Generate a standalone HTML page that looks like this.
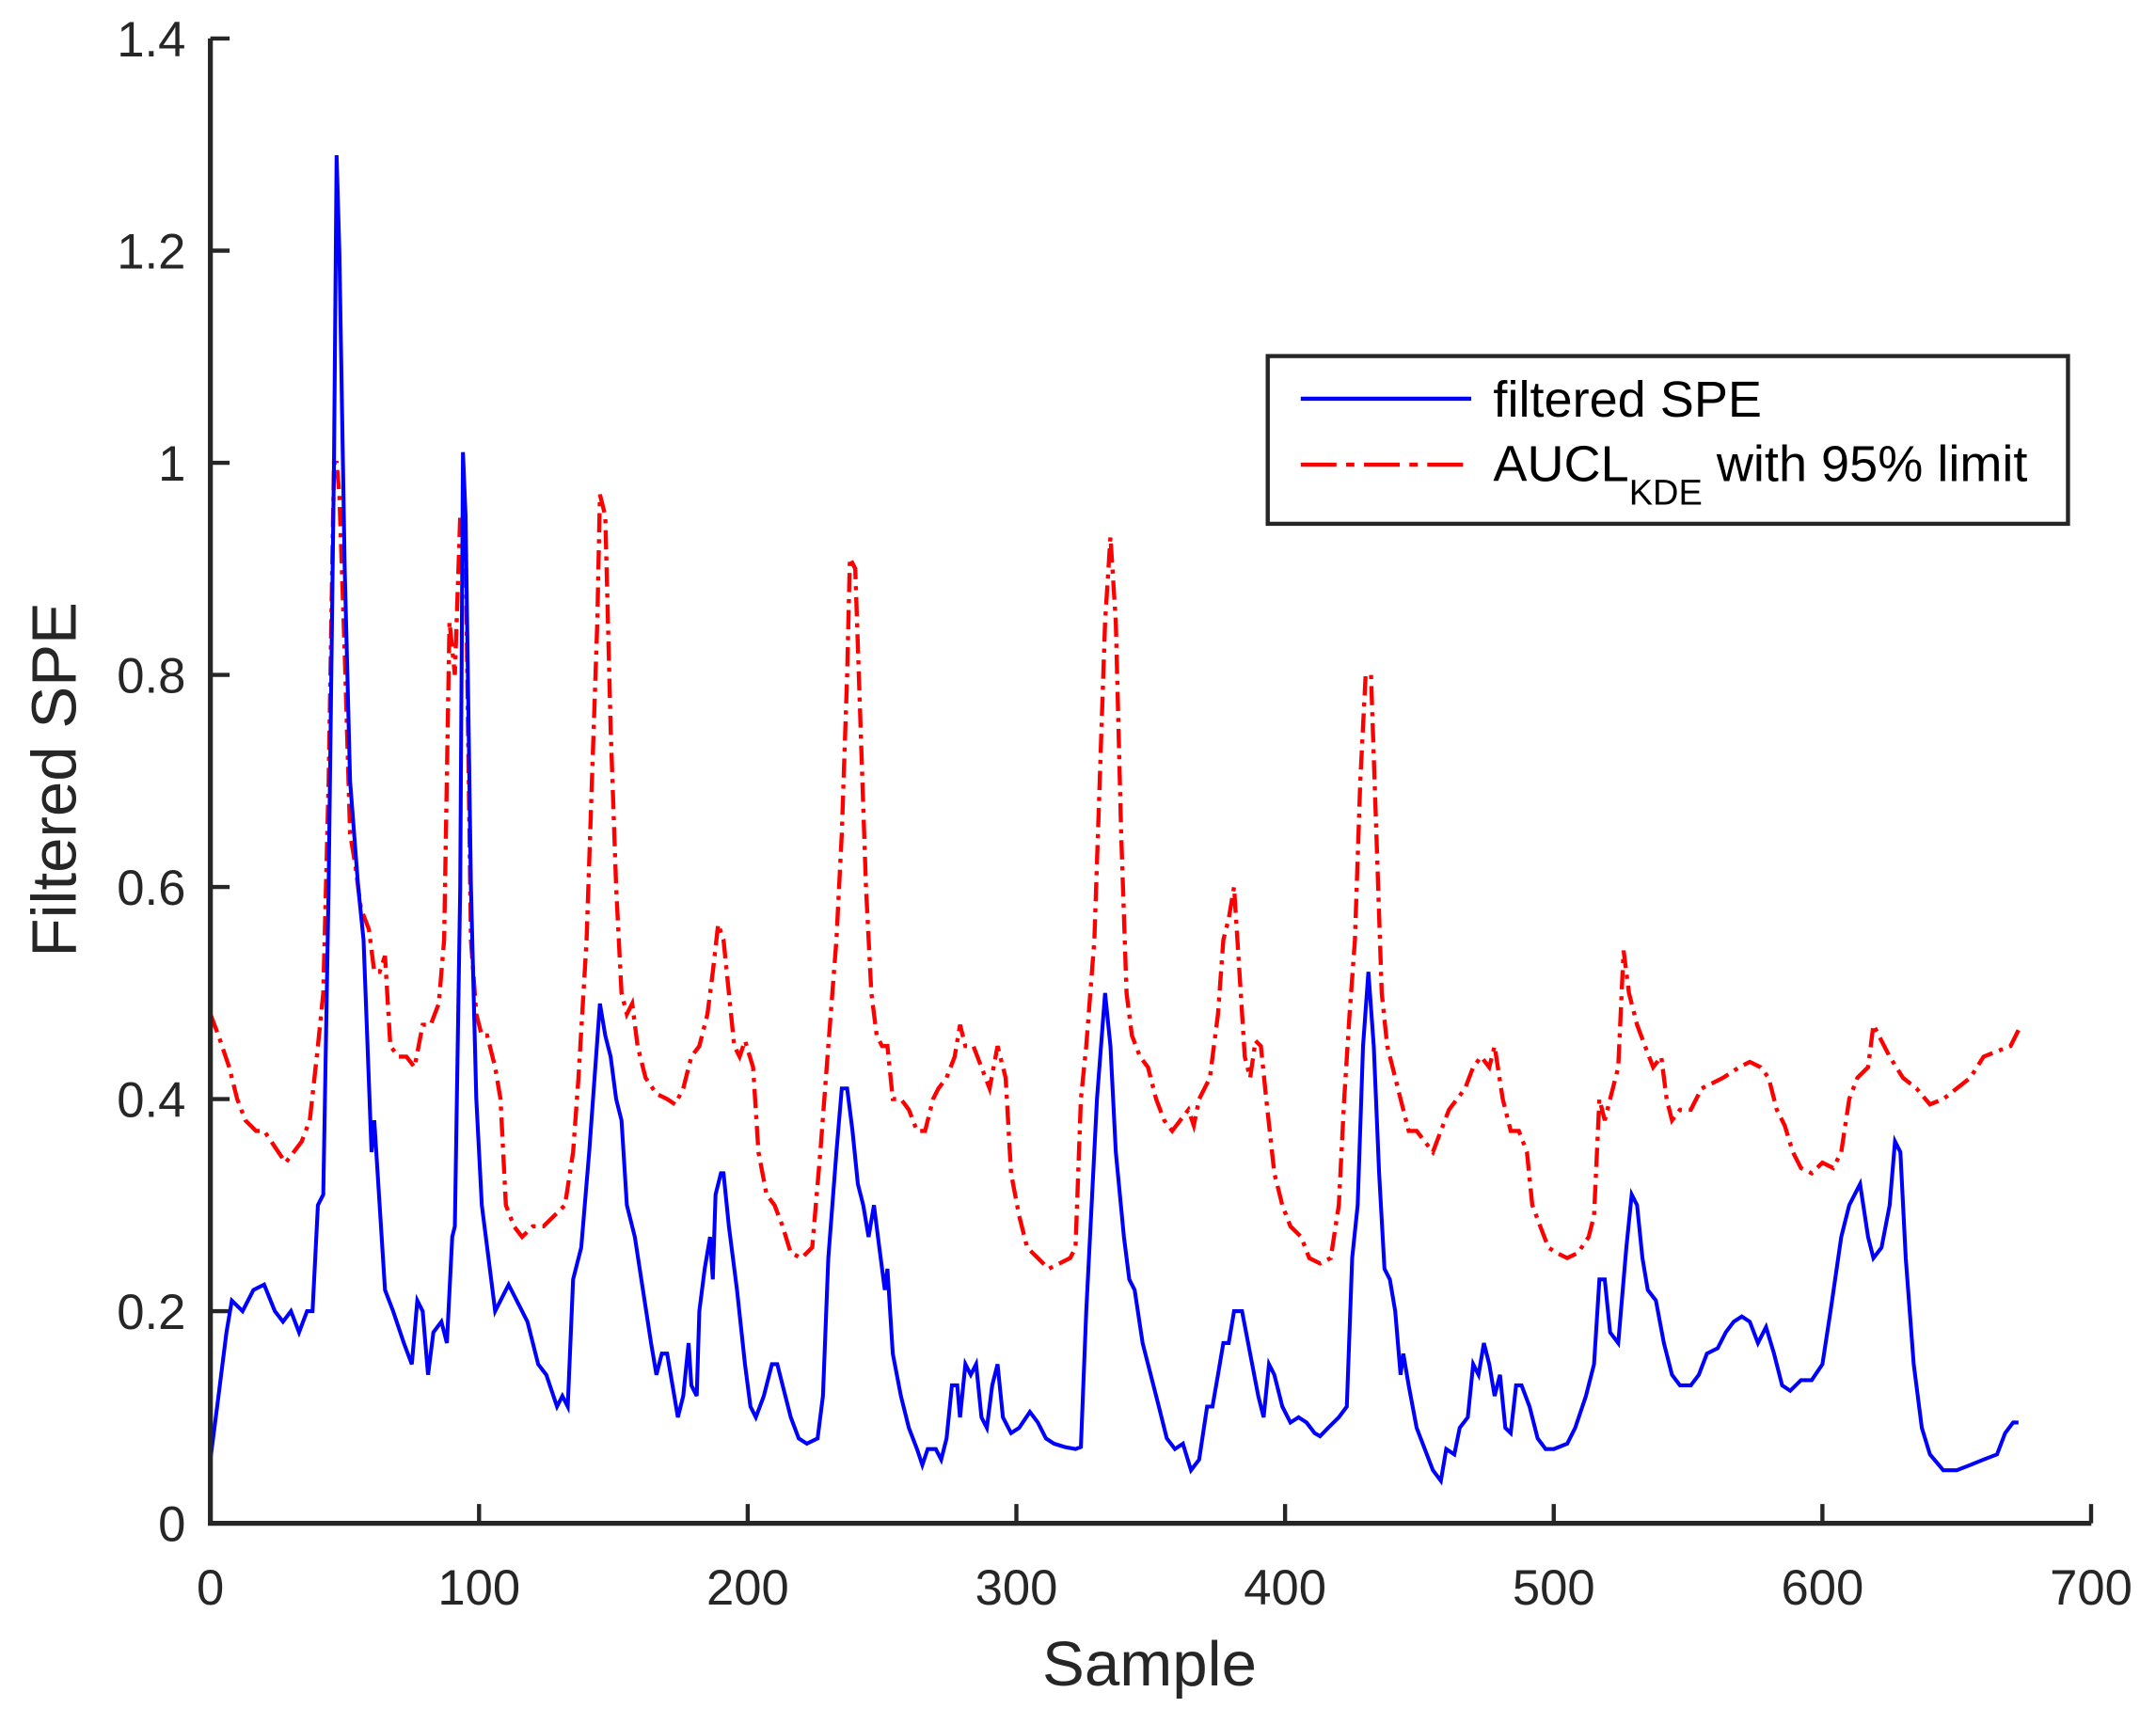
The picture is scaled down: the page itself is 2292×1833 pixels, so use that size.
<!DOCTYPE html>
<html><head><meta charset="utf-8"><style>html,body{margin:0;padding:0;background:#fff}svg{display:block}</style></head>
<body>
<svg id="s" width="2292" height="1833" viewBox="0 0 1568 1254" xmlns="http://www.w3.org/2000/svg" font-family="Liberation Sans, Arial, sans-serif">
<rect width="1568" height="1254" fill="#fff"/>
<g id="ticks" stroke="#262626" stroke-width="3"></g>
<path id="red" fill="none" stroke="#ff0000" stroke-width="3" stroke-dasharray="14,5,3,5"/>
<path id="blue" fill="none" stroke="#0000ff" stroke-width="2.8"/>
<path d="M153,28 L153,1108 L1521,1108" fill="none" stroke="#262626" stroke-width="3.6"/>
<g id="labels" fill="#262626" font-size="36"></g>
<text x="836" y="1226" text-anchor="middle" font-size="46" fill="#262626">Sample</text>
<text transform="translate(55,567) rotate(-90)" text-anchor="middle" font-size="46" fill="#262626">Filtered SPE</text>
<rect x="922" y="259" width="582" height="122" fill="#fff" stroke="#262626" stroke-width="3"/>
<line x1="946" y1="290" x2="1070" y2="290" stroke="#0000ff" stroke-width="3"/>
<line x1="946" y1="338" x2="1070" y2="338" stroke="#ff0000" stroke-width="3" stroke-dasharray="26,7,6,7"/>
<text x="1086" y="303" font-size="37" fill="#000">filtered SPE</text>
<text x="1086" y="350" font-size="37" fill="#000">AUCL<tspan font-size="26" dy="17">KDE</tspan><tspan dy="-17"> with 95% limit</tspan></text>
</svg>
<script>
var X=function(s){return 153+s*1.954},Y=function(v){return 1108-v*771.4};
var B=[0,.06,3,.12,6,.18,8,.21,12,.2,16,.22,20,.225,24,.2,27,.19,30,.2,33,.18,36,.2,38,.2,40,.3,42,.31,44,.6,46,1.0,47,1.29,48,1.2,50,.9,52,.7,55,.6,57,.55,60,.35,61,.38,63,.3,65,.22,68,.2,72,.17,75,.15,77,.21,79,.2,81,.14,83,.18,86,.19,88,.17,90,.27,91,.28,93,.6,94,1.01,95,.95,97,.6,99,.4,101,.3,103,.26,106,.2,108,.21,111,.225,114,.21,118,.19,122,.15,125,.14,129,.11,131,.12,133,.11,135,.23,138,.26,141,.35,143,.42,145,.49,147,.46,149,.44,151,.4,153,.38,155,.3,158,.27,161,.22,164,.17,166,.14,168,.16,170,.16,172,.13,174,.1,176,.12,178,.17,179,.13,181,.12,182,.2,184,.24,186,.27,187,.23,188,.31,190,.33,191,.33,193,.28,196,.22,199,.15,201,.11,203,.1,206,.12,209,.15,211,.15,213,.13,216,.1,219,.08,222,.075,226,.08,228,.12,230,.25,233,.35,235,.41,237,.41,239,.37,241,.32,243,.3,245,.27,247,.3,249,.26,251,.22,252,.24,254,.16,257,.12,260,.09,263,.07,265,.055,267,.07,270,.07,272,.06,274,.08,276,.13,278,.13,279,.1,281,.15,283,.14,285,.15,287,.1,289,.09,291,.13,293,.15,295,.1,298,.085,301,.09,305,.105,308,.095,311,.08,314,.075,318,.072,322,.07,324,.072,326,.2,328,.3,330,.4,333,.5,335,.45,337,.35,340,.27,342,.23,344,.22,347,.17,350,.14,353,.11,356,.08,359,.07,362,.075,365,.05,368,.06,371,.11,373,.11,375,.14,377,.17,379,.17,381,.2,384,.2,387,.16,390,.12,392,.1,394,.15,396,.14,399,.11,402,.095,405,.1,408,.095,411,.085,413,.082,416,.09,420,.1,423,.11,425,.25,427,.3,429,.45,431,.52,433,.45,435,.33,437,.24,439,.23,441,.2,443,.14,444,.16,446,.13,449,.09,452,.07,455,.05,458,.04,460,.07,463,.065,465,.09,468,.1,470,.15,472,.14,474,.17,476,.15,478,.12,480,.14,482,.09,484,.085,486,.13,488,.13,491,.11,494,.08,497,.07,500,.07,505,.075,508,.09,512,.12,515,.15,517,.23,519,.23,521,.18,524,.17,527,.26,529,.31,531,.3,533,.25,535,.22,538,.21,541,.17,544,.14,547,.13,551,.13,554,.14,557,.16,561,.165,564,.18,567,.19,570,.195,573,.19,576,.17,579,.185,582,.16,585,.13,588,.125,592,.135,596,.135,600,.15,603,.2,607,.27,610,.3,614,.32,617,.27,619,.25,622,.26,625,.3,627,.36,629,.35,631,.25,634,.15,637,.09,640,.065,645,.05,650,.05,655,.055,660,.06,665,.065,668,.085,671,.095,673,.095];
var R=[0,.48,3,.46,7,.43,10,.4,13,.38,17,.37,20,.37,24,.355,28,.34,31,.35,34,.36,37,.38,40,.45,42,.5,44,.7,46,1.0,47,1.0,48,.97,50,.82,52,.65,54,.62,56,.58,59,.56,61,.52,63,.52,65,.535,67,.45,70,.44,73,.44,76,.43,79,.47,82,.47,85,.49,87,.55,89,.85,91,.8,93,.95,95,.92,97,.55,99,.48,101,.46,103,.46,106,.43,108,.4,110,.3,113,.28,116,.27,120,.28,124,.28,128,.29,132,.3,135,.35,137,.42,140,.55,142,.7,144,.85,145,.97,147,.95,149,.75,151,.6,153,.5,155,.48,157,.49,159,.45,162,.42,166,.405,170,.4,173,.395,176,.41,179,.44,182,.45,185,.48,187,.52,189,.565,191,.55,193,.5,195,.45,197,.44,199,.455,202,.43,204,.35,207,.31,210,.3,213,.28,216,.255,220,.25,224,.26,227,.35,230,.45,233,.55,235,.65,237,.8,238,.91,240,.9,242,.75,244,.6,246,.5,248,.46,250,.45,252,.45,254,.4,257,.4,260,.39,263,.37,266,.37,269,.4,271,.41,274,.42,277,.44,279,.47,281,.45,284,.45,287,.43,290,.41,293,.45,296,.42,298,.33,301,.29,304,.26,308,.25,312,.24,316,.245,320,.25,322,.26,324,.4,326,.45,329,.55,331,.7,333,.85,335,.93,337,.85,339,.65,341,.5,343,.46,346,.44,349,.43,352,.4,355,.38,358,.37,361,.38,364,.39,366,.375,368,.4,372,.42,375,.48,377,.55,379,.57,381,.6,383,.52,385,.44,387,.42,389,.455,391,.45,393,.4,396,.33,399,.3,402,.28,406,.27,409,.25,413,.245,417,.25,420,.3,422,.4,424,.48,426,.55,428,.7,430,.8,432,.8,434,.65,436,.5,438,.45,440,.43,443,.4,446,.37,449,.37,452,.36,455,.35,458,.37,461,.39,464,.4,467,.41,470,.43,473,.44,476,.43,478,.45,481,.4,484,.37,487,.37,490,.35,492,.3,495,.28,498,.26,501,.255,505,.25,509,.255,513,.27,515,.29,517,.4,519,.38,521,.4,524,.43,526,.54,528,.5,531,.47,534,.45,537,.43,540,.44,542,.4,544,.38,547,.39,551,.39,555,.41,559,.415,563,.42,566,.425,569,.43,573,.435,577,.43,580,.42,583,.39,586,.375,589,.35,592,.335,596,.33,600,.34,604,.335,607,.35,610,.4,613,.42,617,.43,619,.47,621,.46,625,.44,630,.42,635,.41,640,.395,645,.4,650,.41,655,.42,660,.44,665,.445,670,.45,673,.465];
function P(a){var d="";for(var i=0;i<a.length;i+=2)d+=(i?"L":"M")+X(a[i]).toFixed(1)+","+Y(a[i+1]).toFixed(1);return d}
document.getElementById("blue").setAttribute("d",P(B));
document.getElementById("red").setAttribute("d",P(R));
var t="",l="";
for(var i=0;i<=7;i++){var x=X(i*100);t+='<line x1="'+x+'" y1="1108" x2="'+x+'" y2="1094"/>';l+='<text x="'+x+'" y="1167" text-anchor="middle">'+(i*100)+'</text>';}
var yl=["0","0.2","0.4","0.6","0.8","1","1.2","1.4"];
for(var j=0;j<=7;j++){var y=Y(j*0.2);t+='<line x1="153" y1="'+y+'" x2="167" y2="'+y+'"/>';l+='<text x="135" y="'+(y+13)+'" text-anchor="end">'+yl[j]+'</text>';}
document.getElementById("ticks").innerHTML=t;
document.getElementById("labels").innerHTML=l;
</script>
</body></html>
